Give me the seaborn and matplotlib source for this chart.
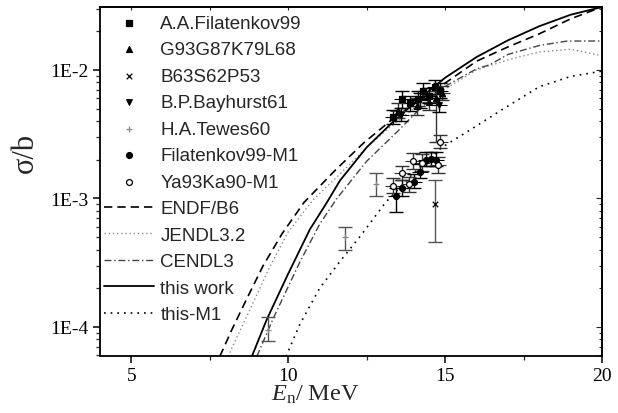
import numpy as np
import pandas as pd
import matplotlib
matplotlib.use("Agg")
import matplotlib.pyplot as plt
import matplotlib.ticker as mticker
import seaborn as sns

# ---------------- data ----------------
# evaluated / calculated curves: energy (MeV) and cross section (b)
endf_E = [7.82, 8.2, 8.68, 9.2, 9.8, 10.5, 11.5, 12.4, 13.3, 14.0, 15.0, 16.0, 17.0, 18.0, 19.0, 20.0]
endf_s = [5.9e-5, 9.5e-5, 1.66e-4, 3.0e-4, 5.3e-4, 9.3e-4, 1.66e-3, 2.7e-3, 4.1e-3, 5.4e-3, 7.9e-3, 1.17e-2, 1.51e-2, 1.91e-2, 2.5e-2, 3.09e-2]

jendl_E = [8.08, 8.5, 8.94, 9.4, 10.0, 10.8, 11.65, 12.5, 13.3, 14.0, 15.0, 16.0, 17.0, 18.0, 19.0, 20.0]
jendl_s = [5.9e-5, 9.8e-5, 1.66e-4, 2.9e-4, 5.5e-4, 9.8e-4, 1.55e-3, 2.5e-3, 3.7e-3, 5.0e-3, 7.1e-3, 1.0e-2, 1.2e-2, 1.38e-2, 1.45e-2, 1.29e-2]

cendl_E = [9.0, 9.51, 10.37, 11.0, 11.55, 12.5, 13.47, 14.2, 15.06, 16.0, 16.43, 17.0, 18.0, 18.9, 20.0]
cendl_s = [5.9e-5, 1.15e-4, 3.2e-4, 6.3e-4, 1.0e-3, 1.95e-3, 3.3e-3, 5.0e-3, 7.6e-3, 1.02e-2, 1.1e-2, 1.32e-2, 1.55e-2, 1.68e-2, 1.68e-2]

work_E = [8.84, 9.32, 10.0, 10.69, 11.23, 11.65, 12.5, 13.34, 14.0, 15.0, 16.0, 17.0, 18.0, 19.0, 20.0]
work_s = [5.9e-5, 1.15e-4, 2.6e-4, 5.75e-4, 9.3e-4, 1.38e-3, 2.5e-3, 3.95e-3, 5.5e-3, 8.7e-3, 1.26e-2, 1.7e-2, 2.19e-2, 2.69e-2, 3.09e-2]

m1_E = [9.93, 10.37, 11.0, 11.65, 12.3, 13.1, 14.0, 14.9, 15.7, 16.75, 18.0, 19.0, 20.0]
m1_s = [5.9e-5, 1.05e-4, 2.0e-4, 3.24e-4, 5.1e-4, 9.3e-4, 1.58e-3, 2.5e-3, 3.3e-3, 4.8e-3, 7.4e-3, 8.9e-3, 9.8e-3]

# experimental data: energy, cross section, lower and upper bounds
fil_E = [13.34, 13.63, 13.88, 14.14, 14.3, 14.5, 14.68, 14.84]
fil_s = [4.3e-3, 5.9e-3, 5.5e-3, 5.9e-3, 6.9e-3, 6.3e-3, 7.4e-3, 6.9e-3]
fil_lo = [3.8e-3, 5.1e-3, 4.8e-3, 5.2e-3, 6.0e-3, 5.5e-3, 6.5e-3, 6.0e-3]
fil_hi = [4.9e-3, 6.8e-3, 6.3e-3, 6.8e-3, 7.9e-3, 7.2e-3, 8.4e-3, 7.9e-3]

g93_E = [13.5, 14.1, 14.5, 14.7, 14.9]
g93_s = [4.8e-3, 5.2e-3, 5.6e-3, 6.0e-3, 6.6e-3]
g93_lo = [4.2e-3, 4.5e-3, 4.9e-3, 2.75e-3, 5.8e-3]
g93_hi = [5.5e-3, 6.0e-3, 6.4e-3, 6.9e-3, 7.5e-3]

b63_E = [14.68]
b63_s = [9.1e-4]
b63_lo = [4.6e-4]
b63_hi = [1.38e-3]

bay_E = [13.6, 14.2, 14.8]
bay_s = [4.5e-3, 5.8e-3, 5.3e-3]
bay_lo = [4.0e-3, 5.1e-3, 4.7e-3]
bay_hi = [5.1e-3, 6.6e-3, 6.0e-3]

tew_E = [9.35, 11.81, 12.8]
tew_s = [9.5e-5, 5.0e-4, 1.29e-3]
tew_lo = [7.8e-5, 4.0e-4, 1.05e-3]
tew_hi = [1.2e-4, 6.0e-4, 1.58e-3]

film1_E = [13.43, 13.63, 14.0, 14.2, 14.4, 14.55, 14.7]
film1_s = [1.05e-3, 1.2e-3, 1.35e-3, 1.62e-3, 2.0e-3, 2.04e-3, 2.0e-3]
film1_lo = [7.9e-4, 1.05e-3, 1.2e-3, 1.45e-3, 1.8e-3, 1.8e-3, 1.8e-3]
film1_hi = [1.2e-3, 1.4e-3, 1.55e-3, 1.85e-3, 2.3e-3, 2.3e-3, 2.3e-3]

ya_E = [13.34, 13.63, 13.85, 13.98, 14.26, 14.77, 14.84]
ya_s = [1.26e-3, 1.58e-3, 1.29e-3, 1.95e-3, 1.9e-3, 1.82e-3, 2.75e-3]
ya_lo = [1.1e-3, 1.38e-3, 1.12e-3, 1.7e-3, 1.65e-3, 1.58e-3, 2.45e-3]
ya_hi = [1.45e-3, 1.8e-3, 1.48e-3, 2.25e-3, 2.2e-3, 2.1e-3, 3.1e-3]

# energy half-widths (MeV) of the cluster measurements
cluster_dE = 0.25

# ---------------- styling ----------------
sns.set_theme(style="ticks")
plt.rcParams["font.family"] = ["Liberation Serif", "DejaVu Serif"]
plt.rcParams["mathtext.fontset"] = "custom"
plt.rcParams["mathtext.rm"] = "Liberation Serif"
plt.rcParams["mathtext.it"] = "Liberation Serif:italic"

fig = plt.figure(figsize=(6.18, 4.14), dpi=100)
ax = fig.add_axes([100 / 618, 1 - 357 / 414, 502 / 618, 349 / 414])

curves = [
    ("ENDF/B6", endf_E, endf_s, dict(color="black", lw=1.2, dashes=(5, 3))),
    ("JENDL3.2", jendl_E, jendl_s, dict(color="#8a8a8a", lw=1.0, dashes=(1, 2))),
    ("CENDL3", cendl_E, cendl_s, dict(color="#444444", lw=1.0, dashes=(5, 2, 1, 2))),
    ("this work", work_E, work_s, dict(color="black", lw=1.3)),
    ("this-M1", m1_E, m1_s, dict(color="black", lw=1.2, dashes=(1, 3))),
]

exps = [
    ("A.A.Filatenkov99", fil_E, fil_s, fil_lo, fil_hi,
     dict(marker="s", color="black", ecolor="black", s=14, facecolor="black", xe=True)),
    ("G93G87K79L68", g93_E, g93_s, g93_lo, g93_hi,
     dict(marker="^", color="black", ecolor="#333333", s=18, facecolor="black", xe=True)),
    ("B63S62P53", b63_E, b63_s, b63_lo, b63_hi,
     dict(marker="x", color="black", ecolor="#555555", s=16, facecolor="black", xe=False)),
    ("B.P.Bayhurst61", bay_E, bay_s, bay_lo, bay_hi,
     dict(marker="v", color="black", ecolor="black", s=16, facecolor="black", xe=True)),
    ("H.A.Tewes60", tew_E, tew_s, tew_lo, tew_hi,
     dict(marker="+", color="#888888", ecolor="#555555", s=20, facecolor="#888888", xe=False)),
    ("Filatenkov99-M1", film1_E, film1_s, film1_lo, film1_hi,
     dict(marker="o", color="black", ecolor="black", s=18, facecolor="black", xe=True)),
    ("Ya93Ka90-M1", ya_E, ya_s, ya_lo, ya_hi,
     dict(marker="o", color="black", ecolor="#333333", s=18, facecolor="white", xe=True)),
]

handles = {}
for name, E, s, lo, hi, st in exps:
    E = np.asarray(E); s = np.asarray(s)
    yerr = np.vstack([s - np.asarray(lo), np.asarray(hi) - s])
    ax.errorbar(E, s, yerr=yerr, fmt="none", ecolor=st["ecolor"], elinewidth=1.0,
                capsize=5, capthick=1.0, zorder=3)
    if st["xe"]:
        ax.errorbar(E, s, xerr=cluster_dE, fmt="none", ecolor=st["ecolor"],
                    elinewidth=0.8, capsize=0, zorder=3)
    df = pd.DataFrame({"E": E, "s": s})
    kw = dict(marker=st["marker"], s=st["s"], zorder=4, linewidth=0.9, ax=ax, legend=False)
    if st["marker"] in ("x", "+"):
        kw["color"] = st["color"]
    else:
        kw["color"] = st["facecolor"]
        kw["edgecolor"] = "black"
    sns.scatterplot(data=df, x="E", y="s", **kw)
    handles[name] = ax.collections[-1]

for name, E, s, st in curves:
    df = pd.DataFrame({"E": E, "s": s})
    sns.lineplot(data=df, x="E", y="s", ax=ax, color=st["color"], lw=st["lw"],
                 sort=False, legend=False, zorder=2)
    ln = ax.lines[-1]
    if "dashes" in st:
        ln.set_dashes(st["dashes"])
    handles[name] = ln

ax.set_yscale("log")
ax.set_xlim(4, 20)
ax.set_ylim(10 ** -4.226, 10 ** -1.51)

ax.xaxis.set_major_locator(mticker.FixedLocator([5, 10, 15, 20]))
ax.xaxis.set_minor_locator(mticker.FixedLocator([7.5, 12.5, 17.5]))
ax.yaxis.set_major_locator(mticker.LogLocator(base=10, numticks=10))
ax.yaxis.set_minor_locator(mticker.LogLocator(base=10, subs=np.arange(2, 10), numticks=20))
ax.yaxis.set_minor_formatter(mticker.NullFormatter())
ax.yaxis.set_major_formatter(mticker.FuncFormatter(lambda v, p: "1E%d" % int(round(np.log10(v)))))

for sp in ax.spines.values():
    sp.set_linewidth(1.3)
    sp.set_color("black")
ax.tick_params(axis="both", which="major", direction="out", length=5, width=1.1,
               labelsize=14, colors="black", pad=3)
ax.tick_params(axis="both", which="minor", direction="out", length=3, width=0.9)

# mirrored short ticks on the top and right spines (no labels)
ax_r = ax.secondary_yaxis("right")
ax_r.yaxis.set_major_locator(mticker.LogLocator(base=10, numticks=10))
ax_r.yaxis.set_minor_locator(mticker.LogLocator(base=10, subs=np.arange(2, 10), numticks=20))
ax_r.tick_params(which="both", direction="in", length=2.5, width=0.8, labelright=False)
ax_r.tick_params(which="major", length=4)
ax_r.spines["right"].set_linewidth(1.3)
ax_t = ax.secondary_xaxis("top")
ax_t.xaxis.set_major_locator(mticker.FixedLocator([5, 10, 15, 20]))
ax_t.xaxis.set_minor_locator(mticker.FixedLocator([7.5, 12.5, 17.5]))
ax_t.tick_params(which="both", direction="in", length=2.5, width=0.8, labeltop=False)
ax_t.spines["top"].set_linewidth(1.3)

ax.set_xlabel("")
ax.set_ylabel("")
fig.text(315 / 618, 1 - 395 / 414, r"$E_{\mathrm{n}}$/ MeV", ha="center", va="center",
         fontsize=17.5)
fig.text(25 / 618, 1 - 153 / 414, "σ/b", rotation=90, ha="center", va="center",
         fontsize=22)

order = ["A.A.Filatenkov99", "G93G87K79L68", "B63S62P53", "B.P.Bayhurst61", "H.A.Tewes60",
         "Filatenkov99-M1", "Ya93Ka90-M1", "ENDF/B6", "JENDL3.2", "CENDL3", "this work", "this-M1"]
leg = ax.legend([handles[k] for k in order], order, loc="upper left", frameon=False,
                bbox_to_anchor=(0.0, 1 - 4.0 / 349),
                prop={"family": "Liberation Sans", "size": 13.5},
                handlelength=2.67, handletextpad=0.35, labelspacing=0.50,
                borderaxespad=0.0, borderpad=0.2, scatterpoints=1, markerscale=1.0)

fig.savefig("out.png", dpi=100, facecolor="white")
